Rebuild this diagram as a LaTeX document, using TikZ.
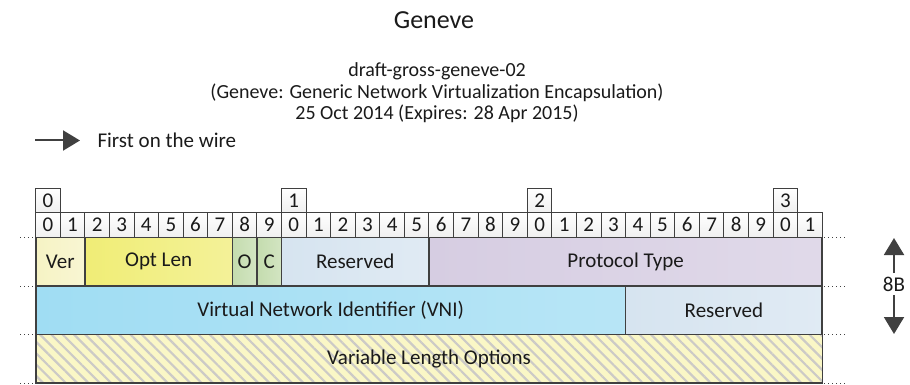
\documentclass[tikz,border=0pt]{standalone}
\usepackage{fontspec}
\setmainfont{Carlito}
\usetikzlibrary{arrows.meta,positioning,patterns.meta}
\definecolor{lnc}   {RGB}{64, 64, 64}
\definecolor{txtc}  {RGB}{26, 26, 26}
\definecolor{verc}  {RGB}{246, 243, 196}
\definecolor{optc}  {RGB}{240, 237, 118}
\definecolor{flagc} {RGB}{196, 220, 174}
\definecolor{rsvc}  {RGB}{214, 228, 240}
\definecolor{protoc}{RGB}{214, 205, 226}
\definecolor{vnic}  {RGB}{160, 221, 243}
\definecolor{optsc} {RGB}{250, 247, 198}
\definecolor{hatchc}{RGB}{204, 202, 198}

\begin{document}
\begin{tikzpicture}[x=1pt, y=-1pt,
    every node/.style={font=\fontsize{21}{25}\selectfont, text=txtc},
    bitbox/.style={draw=lnc, line width=1pt, outer sep=0pt, inner sep=0pt, minimum width=24.58pt, minimum height=24.6pt, top color=white, bottom color=gray!12},
    field/.style={draw=lnc, line width=1.6pt, outer sep=0pt, inner sep=0pt, minimum height=48.5pt, left color=#1, middle color=#1!50!gray!30!white, right color=#1!75!white},
    guide/.style={lnc, line width=1pt, dash pattern=on 1pt off 3pt},
    bigarrow/.style={lnc, line width=2pt, -{Triangle[length=17pt, width=20pt]}}]
    \useasboundingbox (0,0) rectangle (910,385);

    % titles
    \node[font=\fontsize{26}{31}\selectfont] (title) at (434, 20) {Geneve};
    \node[align=center, font=\fontsize{20}{21.5}\selectfont] (draft) at (437, 93) {draft-gross-geneve-02\\(Geneve: Generic Network Virtualization Encapsulation)\\25 Oct 2014 (Expires: 28 Apr 2015)};

    % bit order legend
    \coordinate (wiretail) at (35, 140.5);
    \node[anchor=west] (wire) at (94, 140.5) {First on the wire};
    \draw[bigarrow] (wiretail) -- ([xshift=-14pt]wire.west);

    % bit ruler
    \foreach \i in {0,...,31} {
        \pgfmathtruncatemacro\d{mod(\i,10)}
        \node[bitbox] (bit\i) at ({35.7+(\i+0.5)*24.58}, 224.9) {\d};
    }
    \foreach \i/\lbl in {0/0,10/1,20/2,30/3}
        \node[bitbox, above=0pt of bit\i] (dec\lbl) {\lbl};

    % header fields
    \foreach \first/\n/\ypos/\name/\txt/\col in {
        0/2/261.75/ver/Ver/verc, 2/6/261.75/optlen/Opt Len/optc,
        8/1/261.75/oflag/O/flagc, 9/1/261.75/cflag/C/flagc,
        10/6/261.75/rsvda/Reserved/rsvc, 16/16/261.75/proto/Protocol Type/protoc,
        0/24/310.25/vni/{Virtual Network Identifier (VNI)}/vnic, 24/8/310.25/rsvdb/Reserved/rsvc}
        \node[field=\col, minimum width=\n*24.58pt] (\name) at ({35.7+(\first+\n/2)*24.58}, \ypos) {\txt};
    \node[draw=lnc, line width=1.6pt, outer sep=0pt, inner sep=0pt, minimum width=786.6pt, minimum height=48.5pt,
        preaction={fill=optsc}, pattern={Lines[angle=-45, distance=8pt, line width=2.2pt]}, pattern color=hatchc] (opts) at (429, 358.75) {Variable Length Options};

    % row guides
    \foreach \y in {237.5,286,334.5,383} {
        \draw[guide] (20,\y) -- (33,\y);
        \draw[guide] (824,\y) -- (846,\y);
    }

    % header size
    \node (size) at (894, 284) {8B};
    \coordinate (sizetop) at (894, 238);
    \coordinate (sizebot) at (894, 334);
    \draw[bigarrow] (size) -- (sizetop);
    \draw[bigarrow] (size) -- (sizebot);
\end{tikzpicture}
\end{document}
